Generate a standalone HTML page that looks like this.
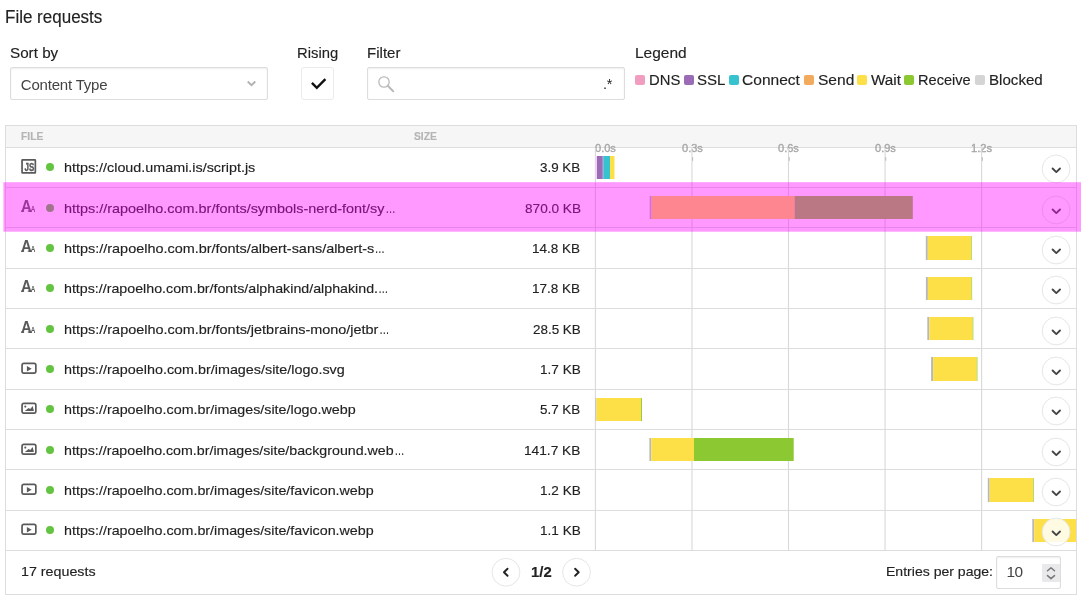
<!DOCTYPE html>
<html lang="en"><head><meta charset="utf-8"><title>File requests</title>
<style>
*{box-sizing:border-box;margin:0;padding:0}
html,body{width:1081px;height:600px;overflow:hidden;background:#fff}
body{font-family:"Liberation Sans",sans-serif;color:#222;font-size:14px;position:relative}
.abs,.t{position:absolute;white-space:nowrap;line-height:1;font-weight:400}
.box{position:absolute;border:1px solid #ddd;border-radius:3px;background:#fff}
.inp{border-radius:2px;box-shadow:inset 0 1px 2px rgba(0,0,0,.07)}
.sw{position:absolute;top:75px;width:10px;height:10px;border-radius:2px}
.dns{background:#f09dc0}.ssl{background:#9b6bb5}.con{background:#36c2ce}.send{background:#f2aa5c}.wait{background:#fde047}.recv{background:#8cc832}.blk{background:#aaa}
#tbl{position:absolute;left:5px;top:125px;width:1072px;height:470px;border:1px solid #ddd}
#hd{position:absolute;left:6px;top:126px;width:1070px;height:21px;background:#f6f6f6}
.hl{position:absolute;left:6px;width:1070px;height:1px;background:#ddd}
.ic{position:absolute;left:21px}
.el{display:inline-block;width:8px;transform:scaleX(.7);transform-origin:0 50%;margin-left:.5px}
.g{-webkit-text-stroke:.14px currentColor}
</style></head><body>

<h2 class="t g" style="top:6.74px;font-size:17.5px;line-height:20px;left:5.44px;transform-origin:0 50%;transform:scaleX(0.9717);">File requests</h2>
<label class="t g" style="top:42.73px;font-size:15.2px;line-height:20px;left:10.01px;transform-origin:0 50%;transform:scaleX(1.0021);">Sort by</label>
<div class="box inp" style="left:10px;top:67px;width:258px;height:33px"></div>
<span class="t" style="top:74.60px;font-size:15px;line-height:20px;left:20.75px;letter-spacing:-0.193px;color:#444;">Content Type</span>
<svg class="abs" style="left:246px;top:79px;overflow:visible" viewBox="0 0 10 10" width="10" height="10"><path d="M1.7 2.5 L5.5 6.1 L9.3 2.5" fill="none" stroke="#b2b2b2" stroke-width="1.9" stroke-linecap="butt" stroke-linejoin="miter"/></svg>
<label class="t g" style="top:42.73px;font-size:15.2px;line-height:20px;left:297.11px;transform-origin:0 50%;transform:scaleX(0.9762);">Rising</label>
<div class="box" style="left:301px;top:67px;width:33px;height:33px;border-color:#ebebeb"></div>
<svg class="abs" style="left:309px;top:76px;overflow:visible" viewBox="0 0 16 16" width="16" height="16"><path d="M2.9 6.9 L7.8 11.9 L16.4 3.2" fill="none" stroke="#111" stroke-width="2.4" stroke-linecap="butt" stroke-linejoin="miter"/></svg>
<label class="t g" style="top:42.73px;font-size:15.2px;line-height:20px;left:367.00px;transform-origin:0 50%;transform:scaleX(0.9907);">Filter</label>
<div class="box inp" style="left:367px;top:67px;width:258px;height:33px"></div>
<svg class="abs" style="left:377px;top:75px" viewBox="0 0 18 18" width="18" height="18"><circle cx="7" cy="7" r="5.2" fill="none" stroke="#bbb" stroke-width="1.3"/><path d="M10.8 10.8 L16.2 16.2" stroke="#bbb" stroke-width="2" stroke-linecap="round"/></svg>
<span class="t" style="top:73.68px;font-size:14.5px;line-height:20px;left:603.10px;letter-spacing:-0.392px;">.*</span>
<label class="t g" style="top:42.73px;font-size:15.2px;line-height:20px;left:634.76px;transform-origin:0 50%;transform:scaleX(1.0209);">Legend</label>
<span class="sw dns" style="left:635px"></span><span class="t g" style="top:69.55px;font-size:14px;line-height:20px;left:648.82px;transform-origin:0 50%;transform:scaleX(1.0579);">DNS</span>
<span class="sw ssl" style="left:684px"></span><span class="t g" style="top:69.55px;font-size:14px;line-height:20px;left:696.62px;transform-origin:0 50%;transform:scaleX(1.0744);">SSL</span>
<span class="sw con" style="left:729px"></span><span class="t g" style="top:69.55px;font-size:14px;line-height:20px;left:742.22px;transform-origin:0 50%;transform:scaleX(1.1109);">Connect</span>
<span class="sw send" style="left:804px"></span><span class="t g" style="top:69.55px;font-size:14px;line-height:20px;left:817.50px;transform-origin:0 50%;transform:scaleX(1.1108);">Send</span>
<span class="sw wait" style="left:857px"></span><span class="t g" style="top:69.55px;font-size:14px;line-height:20px;left:870.92px;transform-origin:0 50%;transform:scaleX(1.0916);">Wait</span>
<span class="sw recv" style="left:904px"></span><span class="t g" style="top:69.55px;font-size:14px;line-height:20px;left:918.33px;transform-origin:0 50%;transform:scaleX(1.0412);">Receive</span>
<span class="sw " style="left:975px;background:#d4d4d4"></span><span class="t g" style="top:69.55px;font-size:14px;line-height:20px;left:988.99px;transform-origin:0 50%;transform:scaleX(1.0788);">Blocked</span>
<div id="tbl"></div><div id="hd"></div>
<span class="t g" style="top:125.99px;font-size:11px;line-height:20px;left:21.03px;transform-origin:0 50%;transform:scaleX(0.9377);font-weight:700;color:#b4b4b4;">FILE</span>
<span class="t g" style="top:125.99px;font-size:11px;line-height:20px;left:413.69px;transform-origin:0 50%;transform:scaleX(0.9365);font-weight:700;color:#b4b4b4;">SIZE</span>
<div class="hl" style="top:147px"></div>
<div class="hl" style="top:187px"></div>
<div class="hl" style="top:227px"></div>
<div class="hl" style="top:268px"></div>
<div class="hl" style="top:308px"></div>
<div class="hl" style="top:348px"></div>
<div class="hl" style="top:389px"></div>
<div class="hl" style="top:429px"></div>
<div class="hl" style="top:469px"></div>
<div class="hl" style="top:510px"></div>
<div class="hl" style="top:550px"></div>
<span class="t g" style="top:138.19px;font-size:11px;line-height:20px;left:595.46px;transform-origin:0 50%;transform:scaleX(1.0018);color:#a6a6a6;-webkit-text-stroke:.35px #a6a6a6;">0.0s</span>
<span class="t g" style="top:138.19px;font-size:11px;line-height:20px;left:681.61px;transform-origin:0 50%;transform:scaleX(1.0018);color:#a6a6a6;-webkit-text-stroke:.35px #a6a6a6;">0.3s</span>
<span class="t g" style="top:138.19px;font-size:11px;line-height:20px;left:778.16px;transform-origin:0 50%;transform:scaleX(1.0018);color:#a6a6a6;-webkit-text-stroke:.35px #a6a6a6;">0.6s</span>
<span class="t g" style="top:138.19px;font-size:11px;line-height:20px;left:874.71px;transform-origin:0 50%;transform:scaleX(1.0018);color:#a6a6a6;-webkit-text-stroke:.35px #a6a6a6;">0.9s</span>
<span class="t g" style="top:138.19px;font-size:11px;line-height:20px;left:970.86px;transform-origin:0 50%;transform:scaleX(1.0215);color:#a6a6a6;-webkit-text-stroke:.35px #a6a6a6;">1.2s</span>
<svg class="abs" style="left:0;top:0" width="1081" height="600" viewBox="0 0 1081 600"><rect x="594.84" y="148" width="1.12" height="402" fill="#d9d9d9"/><rect x="691.39" y="148" width="1.12" height="402" fill="#d9d9d9"/><rect x="692.15" y="157.2" width="1" height="3.6" fill="#b8b8b8"/><rect x="787.94" y="148" width="1.12" height="402" fill="#d9d9d9"/><rect x="788.70" y="157.2" width="1" height="3.6" fill="#b8b8b8"/><rect x="884.49" y="148" width="1.12" height="402" fill="#d9d9d9"/><rect x="885.25" y="157.2" width="1" height="3.6" fill="#b8b8b8"/><rect x="981.04" y="148" width="1.12" height="402" fill="#d9d9d9"/><rect x="981.80" y="157.2" width="1" height="3.6" fill="#b8b8b8"/></svg>
<svg class="ic" style="top:159px" viewBox="0 0 16 16" width="16" height="16"><rect x="1.05" y="0.85" width="13.3" height="13.05" rx="0.5" fill="none" stroke="#5a5a5a" stroke-width="1.7"/><text transform="translate(8.5,11.9) scale(0.8,1)" text-anchor="middle" style="font-family:'Liberation Sans',sans-serif;font-weight:700;font-size:10px" fill="#5a5a5a" stroke="#5a5a5a" stroke-width=".35">JS</text></svg>
<svg class="abs" style="left:44px;top:161.00px" width="12" height="12" viewBox="0 0 12 12"><circle cx="6" cy="6" r="4" fill="#62c440"/></svg>
<span class="t g" style="top:157.50px;font-size:13px;line-height:20px;left:63.70px;transform-origin:0 50%;transform:scaleX(1.1031);">https://cloud.umami.is/script.js</span>
<span class="t g" style="top:157.50px;font-size:13px;line-height:20px;left:540.26px;transform-origin:0 50%;transform:scaleX(1.0309);">3.9 KB</span>
<svg class="abs" style="left:0;top:0" width="1081" height="600" viewBox="0 0 1081 600"><rect x="595.20" y="156" width="1.80" height="23" fill="#f0d4f0"/><rect x="597.00" y="156" width="5.80" height="23" fill="#9b6bb5"/><rect x="602.80" y="156" width="1.20" height="23" fill="#78bde0"/><rect x="604.00" y="156" width="6.00" height="23" fill="#36c2ce"/><rect x="610.00" y="156" width="4.50" height="23" fill="#fde047"/><circle cx="1056.1" cy="169.00" r="13.9" fill="rgba(255,255,255,.85)" stroke="#e6e6e6" stroke-width="1"/><path d="M1052.6 168.50 l3.7 3.6 l3.7 -3.6" fill="none" stroke="#444" stroke-width="1.9" stroke-linecap="round" stroke-linejoin="round"/></svg>
<svg class="ic" style="top:200px" viewBox="0 0 16 16" width="16" height="16"><text transform="translate(-0.1,11.8) scale(0.9,1)" style="font-family:'Liberation Sans',sans-serif;font-weight:700;font-size:16.6px" fill="#5a5a5a">A</text><path d="M-0.1 10.6h3.2v1.2h-3.2z M6.8 10.6h3.9v1.2H6.8z" fill="#5a5a5a"/><text transform="translate(9.8,11.8) scale(0.72,1)" style="font-family:'Liberation Sans',sans-serif;font-weight:700;font-size:8.8px" fill="#5a5a5a">A</text></svg>
<svg class="abs" style="left:44px;top:202.00px" width="12" height="12" viewBox="0 0 12 12"><circle cx="6" cy="6" r="4" fill="#62c440"/></svg>
<span class="t g" style="top:198.50px;font-size:13px;line-height:20px;left:63.69px;transform-origin:0 50%;transform:scaleX(1.1087);">https://rapoelho.com.br/fonts/symbols-nerd-font/sy<span class="el">…</span></span>
<span class="t g" style="top:198.50px;font-size:13px;line-height:20px;left:524.59px;transform-origin:0 50%;transform:scaleX(1.0461);">870.0 KB</span>
<svg class="abs" style="left:0;top:0" width="1081" height="600" viewBox="0 0 1081 600"><rect x="649.70" y="196" width="1.90" height="23" fill="#b8b8b8"/><rect x="651.60" y="196" width="143.00" height="23" fill="#fde047"/><rect x="794.60" y="196" width="118.20" height="23" fill="#8cc832"/><circle cx="1056.1" cy="210.00" r="13.9" fill="rgba(255,255,255,.85)" stroke="#e6e6e6" stroke-width="1"/><path d="M1052.6 209.50 l3.7 3.6 l3.7 -3.6" fill="none" stroke="#444" stroke-width="1.9" stroke-linecap="round" stroke-linejoin="round"/></svg>
<svg class="ic" style="top:240px" viewBox="0 0 16 16" width="16" height="16"><text transform="translate(-0.1,11.8) scale(0.9,1)" style="font-family:'Liberation Sans',sans-serif;font-weight:700;font-size:16.6px" fill="#5a5a5a">A</text><path d="M-0.1 10.6h3.2v1.2h-3.2z M6.8 10.6h3.9v1.2H6.8z" fill="#5a5a5a"/><text transform="translate(9.8,11.8) scale(0.72,1)" style="font-family:'Liberation Sans',sans-serif;font-weight:700;font-size:8.8px" fill="#5a5a5a">A</text></svg>
<svg class="abs" style="left:44px;top:242.00px" width="12" height="12" viewBox="0 0 12 12"><circle cx="6" cy="6" r="4" fill="#62c440"/></svg>
<span class="t g" style="top:238.50px;font-size:13px;line-height:20px;left:63.69px;transform-origin:0 50%;transform:scaleX(1.1094);">https://rapoelho.com.br/fonts/albert-sans/albert-s<span class="el">…</span></span>
<span class="t g" style="top:238.50px;font-size:13px;line-height:20px;left:532.39px;transform-origin:0 50%;transform:scaleX(1.0406);">14.8 KB</span>
<svg class="abs" style="left:0;top:0" width="1081" height="600" viewBox="0 0 1081 600"><rect x="925.80" y="236" width="2.00" height="24" fill="#b8b8b8"/><rect x="927.80" y="236" width="43.40" height="24" fill="#fde047"/><rect x="971.20" y="236" width="0.60" height="24" fill="#8cc832"/><circle cx="1056.1" cy="250.00" r="13.9" fill="rgba(255,255,255,.85)" stroke="#e6e6e6" stroke-width="1"/><path d="M1052.6 249.50 l3.7 3.6 l3.7 -3.6" fill="none" stroke="#444" stroke-width="1.9" stroke-linecap="round" stroke-linejoin="round"/></svg>
<svg class="ic" style="top:280px" viewBox="0 0 16 16" width="16" height="16"><text transform="translate(-0.1,11.8) scale(0.9,1)" style="font-family:'Liberation Sans',sans-serif;font-weight:700;font-size:16.6px" fill="#5a5a5a">A</text><path d="M-0.1 10.6h3.2v1.2h-3.2z M6.8 10.6h3.9v1.2H6.8z" fill="#5a5a5a"/><text transform="translate(9.8,11.8) scale(0.72,1)" style="font-family:'Liberation Sans',sans-serif;font-weight:700;font-size:8.8px" fill="#5a5a5a">A</text></svg>
<svg class="abs" style="left:44px;top:282.00px" width="12" height="12" viewBox="0 0 12 12"><circle cx="6" cy="6" r="4" fill="#62c440"/></svg>
<span class="t g" style="top:278.50px;font-size:13px;line-height:20px;left:63.70px;transform-origin:0 50%;transform:scaleX(1.0946);">https://rapoelho.com.br/fonts/alphakind/alphakind.<span class="el">…</span></span>
<span class="t g" style="top:278.50px;font-size:13px;line-height:20px;left:532.39px;transform-origin:0 50%;transform:scaleX(1.0406);">17.8 KB</span>
<svg class="abs" style="left:0;top:0" width="1081" height="600" viewBox="0 0 1081 600"><rect x="925.90" y="277" width="2.00" height="23" fill="#b8b8b8"/><rect x="927.90" y="277" width="43.60" height="23" fill="#fde047"/><rect x="971.50" y="277" width="0.60" height="23" fill="#8cc832"/><circle cx="1056.1" cy="290.00" r="13.9" fill="rgba(255,255,255,.85)" stroke="#e6e6e6" stroke-width="1"/><path d="M1052.6 289.50 l3.7 3.6 l3.7 -3.6" fill="none" stroke="#444" stroke-width="1.9" stroke-linecap="round" stroke-linejoin="round"/></svg>
<svg class="ic" style="top:321px" viewBox="0 0 16 16" width="16" height="16"><text transform="translate(-0.1,11.8) scale(0.9,1)" style="font-family:'Liberation Sans',sans-serif;font-weight:700;font-size:16.6px" fill="#5a5a5a">A</text><path d="M-0.1 10.6h3.2v1.2h-3.2z M6.8 10.6h3.9v1.2H6.8z" fill="#5a5a5a"/><text transform="translate(9.8,11.8) scale(0.72,1)" style="font-family:'Liberation Sans',sans-serif;font-weight:700;font-size:8.8px" fill="#5a5a5a">A</text></svg>
<svg class="abs" style="left:44px;top:323.00px" width="12" height="12" viewBox="0 0 12 12"><circle cx="6" cy="6" r="4" fill="#62c440"/></svg>
<span class="t g" style="top:319.50px;font-size:13px;line-height:20px;left:63.69px;transform-origin:0 50%;transform:scaleX(1.1099);">https://rapoelho.com.br/fonts/jetbrains-mono/jetbr<span class="el">…</span></span>
<span class="t g" style="top:319.50px;font-size:13px;line-height:20px;left:532.73px;transform-origin:0 50%;transform:scaleX(1.0331);">28.5 KB</span>
<svg class="abs" style="left:0;top:0" width="1081" height="600" viewBox="0 0 1081 600"><rect x="927.30" y="317" width="2.00" height="23" fill="#b8b8b8"/><rect x="929.30" y="317" width="43.40" height="23" fill="#fde047"/><rect x="972.70" y="317" width="0.60" height="23" fill="#8cc832"/><circle cx="1056.1" cy="331.00" r="13.9" fill="rgba(255,255,255,.85)" stroke="#e6e6e6" stroke-width="1"/><path d="M1052.6 330.50 l3.7 3.6 l3.7 -3.6" fill="none" stroke="#444" stroke-width="1.9" stroke-linecap="round" stroke-linejoin="round"/></svg>
<svg class="ic" style="top:361px" viewBox="0 0 16 16" width="16" height="16"><rect x="1.05" y="2.45" width="13.8" height="9.6" rx="1.7" fill="none" stroke="#5a5a5a" stroke-width="1.7"/><path d="M5.9 5.0 L10.7 7.75 L5.9 10.5 Z" fill="#5a5a5a"/></svg>
<svg class="abs" style="left:44px;top:363.00px" width="12" height="12" viewBox="0 0 12 12"><circle cx="6" cy="6" r="4" fill="#62c440"/></svg>
<span class="t g" style="top:359.50px;font-size:13px;line-height:20px;left:63.70px;transform-origin:0 50%;transform:scaleX(1.1038);">https://rapoelho.com.br/images/site/logo.svg</span>
<span class="t g" style="top:359.50px;font-size:13px;line-height:20px;left:539.78px;transform-origin:0 50%;transform:scaleX(1.0435);">1.7 KB</span>
<svg class="abs" style="left:0;top:0" width="1081" height="600" viewBox="0 0 1081 600"><rect x="931.10" y="357" width="2.00" height="24" fill="#b8b8b8"/><rect x="933.10" y="357" width="43.70" height="24" fill="#fde047"/><rect x="976.80" y="357" width="0.60" height="24" fill="#8cc832"/><circle cx="1056.1" cy="371.00" r="13.9" fill="rgba(255,255,255,.85)" stroke="#e6e6e6" stroke-width="1"/><path d="M1052.6 370.50 l3.7 3.6 l3.7 -3.6" fill="none" stroke="#444" stroke-width="1.9" stroke-linecap="round" stroke-linejoin="round"/></svg>
<svg class="ic" style="top:401px" viewBox="0 0 16 16" width="16" height="16"><rect x="1.05" y="2.45" width="13.8" height="9.6" rx="1.7" fill="none" stroke="#5a5a5a" stroke-width="1.7"/><circle cx="4.3" cy="5.6" r="1.05" fill="#5a5a5a"/><path d="M3.8 9.9 L7.6 7 L9.3 8.1 L11.7 4.9 L12.9 9.9 Z" fill="#5a5a5a"/></svg>
<svg class="abs" style="left:44px;top:403.00px" width="12" height="12" viewBox="0 0 12 12"><circle cx="6" cy="6" r="4" fill="#62c440"/></svg>
<span class="t g" style="top:399.50px;font-size:13px;line-height:20px;left:63.70px;transform-origin:0 50%;transform:scaleX(1.0998);">https://rapoelho.com.br/images/site/logo.webp</span>
<span class="t g" style="top:399.50px;font-size:13px;line-height:20px;left:540.26px;transform-origin:0 50%;transform:scaleX(1.0309);">5.7 KB</span>
<svg class="abs" style="left:0;top:0" width="1081" height="600" viewBox="0 0 1081 600"><rect x="595.50" y="398" width="0.90" height="23" fill="#b8b8b8"/><rect x="596.40" y="398" width="44.60" height="23" fill="#fde047"/><rect x="641.00" y="398" width="0.90" height="23" fill="#8cc832"/><circle cx="1056.1" cy="411.00" r="13.9" fill="rgba(255,255,255,.85)" stroke="#e6e6e6" stroke-width="1"/><path d="M1052.6 410.50 l3.7 3.6 l3.7 -3.6" fill="none" stroke="#444" stroke-width="1.9" stroke-linecap="round" stroke-linejoin="round"/></svg>
<svg class="ic" style="top:442px" viewBox="0 0 16 16" width="16" height="16"><rect x="1.05" y="2.45" width="13.8" height="9.6" rx="1.7" fill="none" stroke="#5a5a5a" stroke-width="1.7"/><circle cx="4.3" cy="5.6" r="1.05" fill="#5a5a5a"/><path d="M3.8 9.9 L7.6 7 L9.3 8.1 L11.7 4.9 L12.9 9.9 Z" fill="#5a5a5a"/></svg>
<svg class="abs" style="left:44px;top:444.00px" width="12" height="12" viewBox="0 0 12 12"><circle cx="6" cy="6" r="4" fill="#62c440"/></svg>
<span class="t g" style="top:440.50px;font-size:13px;line-height:20px;left:63.70px;transform-origin:0 50%;transform:scaleX(1.0940);">https://rapoelho.com.br/images/site/background.web<span class="el">…</span></span>
<span class="t g" style="top:440.50px;font-size:13px;line-height:20px;left:524.17px;transform-origin:0 50%;transform:scaleX(1.0540);">141.7 KB</span>
<svg class="abs" style="left:0;top:0" width="1081" height="600" viewBox="0 0 1081 600"><rect x="649.40" y="438" width="1.80" height="23" fill="#b8b8b8"/><rect x="651.20" y="438" width="42.80" height="23" fill="#fde047"/><rect x="694.00" y="438" width="99.70" height="23" fill="#8cc832"/><circle cx="1056.1" cy="452.00" r="13.9" fill="rgba(255,255,255,.85)" stroke="#e6e6e6" stroke-width="1"/><path d="M1052.6 451.50 l3.7 3.6 l3.7 -3.6" fill="none" stroke="#444" stroke-width="1.9" stroke-linecap="round" stroke-linejoin="round"/></svg>
<svg class="ic" style="top:482px" viewBox="0 0 16 16" width="16" height="16"><rect x="1.05" y="2.45" width="13.8" height="9.6" rx="1.7" fill="none" stroke="#5a5a5a" stroke-width="1.7"/><path d="M5.9 5.0 L10.7 7.75 L5.9 10.5 Z" fill="#5a5a5a"/></svg>
<svg class="abs" style="left:44px;top:484.00px" width="12" height="12" viewBox="0 0 12 12"><circle cx="6" cy="6" r="4" fill="#62c440"/></svg>
<span class="t g" style="top:480.50px;font-size:13px;line-height:20px;left:63.70px;transform-origin:0 50%;transform:scaleX(1.0990);">https://rapoelho.com.br/images/site/favicon.webp</span>
<span class="t g" style="top:480.50px;font-size:13px;line-height:20px;left:539.78px;transform-origin:0 50%;transform:scaleX(1.0435);">1.2 KB</span>
<svg class="abs" style="left:0;top:0" width="1081" height="600" viewBox="0 0 1081 600"><rect x="987.80" y="478" width="1.80" height="24" fill="#b8b8b8"/><rect x="989.60" y="478" width="43.70" height="24" fill="#fde047"/><rect x="1033.30" y="478" width="0.60" height="24" fill="#8cc832"/><circle cx="1056.1" cy="492.00" r="13.9" fill="rgba(255,255,255,.85)" stroke="#e6e6e6" stroke-width="1"/><path d="M1052.6 491.50 l3.7 3.6 l3.7 -3.6" fill="none" stroke="#444" stroke-width="1.9" stroke-linecap="round" stroke-linejoin="round"/></svg>
<svg class="ic" style="top:522px" viewBox="0 0 16 16" width="16" height="16"><rect x="1.05" y="2.45" width="13.8" height="9.6" rx="1.7" fill="none" stroke="#5a5a5a" stroke-width="1.7"/><path d="M5.9 5.0 L10.7 7.75 L5.9 10.5 Z" fill="#5a5a5a"/></svg>
<svg class="abs" style="left:44px;top:524.00px" width="12" height="12" viewBox="0 0 12 12"><circle cx="6" cy="6" r="4" fill="#62c440"/></svg>
<span class="t g" style="top:520.50px;font-size:13px;line-height:20px;left:63.70px;transform-origin:0 50%;transform:scaleX(1.0990);">https://rapoelho.com.br/images/site/favicon.webp</span>
<span class="t g" style="top:520.50px;font-size:13px;line-height:20px;left:539.78px;transform-origin:0 50%;transform:scaleX(1.0435);">1.1 KB</span>
<svg class="abs" style="left:0;top:0" width="1081" height="600" viewBox="0 0 1081 600"><rect x="1032.30" y="519" width="1.90" height="23" fill="#b8b8b8"/><rect x="1034.20" y="519" width="41.80" height="23" fill="#fde047"/><circle cx="1056.1" cy="532.00" r="13.9" fill="rgba(255,255,255,.85)" stroke="#e6e6e6" stroke-width="1"/><path d="M1052.6 531.50 l3.7 3.6 l3.7 -3.6" fill="none" stroke="#444" stroke-width="1.9" stroke-linecap="round" stroke-linejoin="round"/></svg>
<span class="t g" style="top:561.50px;font-size:13px;line-height:20px;left:21.13px;transform-origin:0 50%;transform:scaleX(1.0978);">17 requests</span>
<svg class="abs" style="left:0;top:0" width="1081" height="600" viewBox="0 0 1081 600"><circle cx="505.95" cy="572.25" r="13.9" fill="#fff" stroke="#e6e6e6" stroke-width="1"/><path d="M507.55 568.75 l-3.6 3.5 l3.6 3.5" fill="none" stroke="#222" stroke-width="1.9" stroke-linecap="round" stroke-linejoin="round"/><circle cx="576.50" cy="572.25" r="13.9" fill="#fff" stroke="#e6e6e6" stroke-width="1"/><path d="M575.10 568.75 l3.6 3.5 l-3.6 3.5" fill="none" stroke="#222" stroke-width="1.9" stroke-linecap="round" stroke-linejoin="round"/></svg>
<span class="t g" style="top:561.85px;font-size:14.3px;line-height:20px;left:530.61px;transform-origin:0 50%;transform:scaleX(1.0408);font-weight:700;">1/2</span>
<span class="t g" style="top:561.50px;font-size:13px;line-height:20px;left:886.28px;transform-origin:0 50%;transform:scaleX(1.0807);">Entries per page:</span>
<div class="box inp" style="left:996px;top:556px;width:65px;height:33px"></div>
<span class="t" style="top:562.36px;font-size:15.4px;line-height:20px;left:1006.45px;letter-spacing:-0.600px;color:#444;">10</span>
<div class="abs" style="left:1042px;top:564px;width:18px;height:18px;background:#e9e9eb;border-radius:1px"></div>
<svg class="abs" style="left:0;top:0" width="1081" height="600" viewBox="0 0 1081 600"><path d="M1047.5 570.7 L1051 567.7 L1054.5 570.7 M1047.5 575.6 L1051 578.6 L1054.5 575.6" fill="none" stroke="#777" stroke-width="1.5" stroke-linecap="round" stroke-linejoin="round"/></svg>
<svg class="abs" style="left:0;top:0" width="1081" height="600" viewBox="0 0 1081 600"><rect x="3.4" y="182.2" width="1080" height="49.5" fill="rgba(255,0,255,.4)"/></svg>
</body></html>
